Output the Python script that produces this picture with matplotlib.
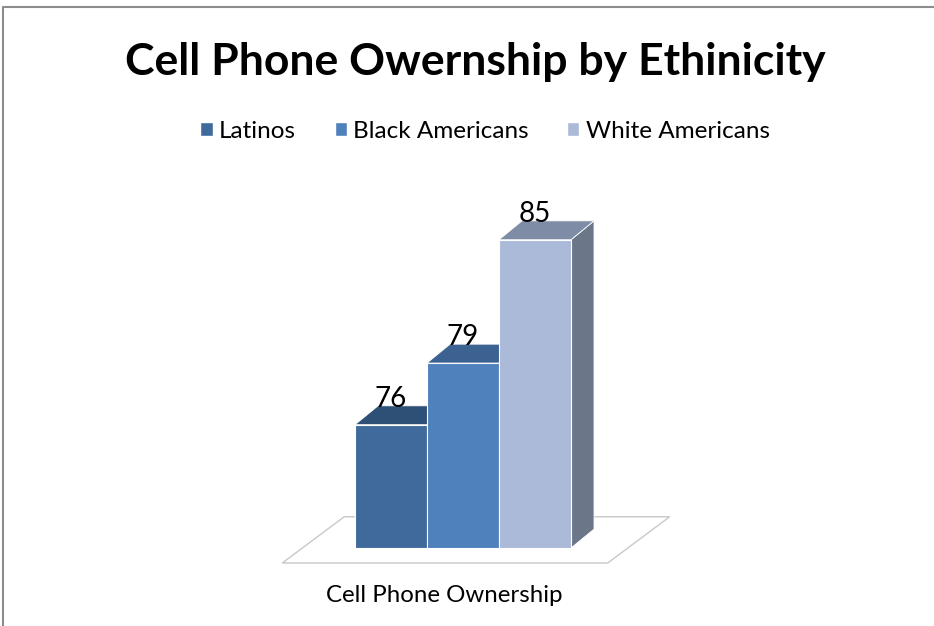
import matplotlib.pyplot as plt
from matplotlib.patches import Patch, Polygon
from matplotlib.lines import Line2D

plt.rcParams["font.family"] = ["Lato", "DejaVu Sans"]

# chart data
groups = ["Latinos", "Black Americans", "White Americans"]
ownership = [76, 79, 85]
category = "Cell Phone Ownership"
title = "Cell Phone Owernship by Ethinicity"

front_colors = ["#406a9b", "#4f81bd", "#abbad8"]
top_colors = ["#2f5076", "#3c6291", "#7f8ca5"]
side_colors = ["#2d4a6e", "#3a5f8c", "#6b7789"]

base = 70          # value at floor level
depth_x = 0.32     # 3d depth in bar-width units
depth_y = 0.92     # 3d depth in value units

W, H = 934, 626
fig = plt.figure(figsize=(W / 100, H / 100), dpi=100)
ax = fig.add_axes([0, 0, 1, 1])
# axes spans full figure: x in bar units (72px each), y in value units (20.55px each)
ax.set_xlim(-391 / 72, (W - 391) / 72)
ax.set_ylim(base - (H - 548) / 20.55, base + 548 / 20.55)
ax.axis("off")

# floor
fx0, fx1, fy = -1.51, 3.01, base - 0.73
floor = Polygon([(fx0, fy), (fx1, fy), (fx1 + 0.86, fy + 2.25), (fx0 + 0.86, fy + 2.25)],
                closed=True, facecolor="white", edgecolor="#c8c8c8", lw=1, zorder=1)
ax.add_patch(floor)

xs = range(len(groups))
for i, (x, v) in enumerate(zip(xs, ownership)):
    z = 3 + i * 3
    ax.bar(x, v - base, bottom=base, width=1.0, color=front_colors[i],
           edgecolor="white", linewidth=0.8, zorder=z)
    l, r = x - 0.5, x + 0.5
    top = Polygon([(l, v), (r, v), (r + depth_x, v + depth_y), (l + depth_x, v + depth_y)],
                  closed=True, facecolor=top_colors[i], edgecolor="white", lw=0.6, zorder=z)
    side = Polygon([(r, base), (r + depth_x, base + depth_y), (r + depth_x, v + depth_y), (r, v)],
                   closed=True, facecolor=side_colors[i], edgecolor="white", lw=0.6, zorder=z - 1)
    ax.add_patch(top)
    ax.add_patch(side)
    ax.text(x, v + depth_y - 0.3, str(v), ha="center", va="bottom",
            fontsize=20, color="black", zorder=20)

ax.text(0.74, base - 2.3, category, ha="center", va="center", fontsize=17.3)

fig.text(475 / W, 1 - 62 / H, title, ha="center", va="center",
         fontsize=32, fontweight="bold")

handles = [Patch(facecolor=c, edgecolor="white") for c in front_colors]
fig.legend(handles, groups, loc="center", bbox_to_anchor=(485 / W, 1 - 131 / H),
           ncol=3, frameon=False, fontsize=17.5, handlelength=0.5, handleheight=0.5,
           handletextpad=0.25, columnspacing=1.6)

# outer chart border (cut off on the right and bottom)
fig.add_artist(Line2D([3 / W, 3 / W, 1], [0, 1 - 7 / H, 1 - 7 / H],
                      transform=fig.transFigure, color="#8c8c8c", lw=1.5))

fig.savefig("out.png", dpi=100)
